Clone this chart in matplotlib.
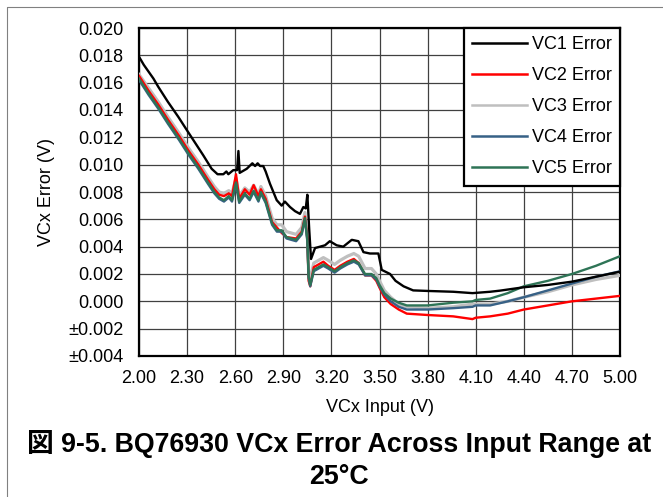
import matplotlib
matplotlib.use("Agg")
import matplotlib.pyplot as plt
from matplotlib.lines import Line2D

plt.rcParams['font.family'] = ['Liberation Sans', 'Noto Sans CJK JP', 'DejaVu Sans']

# VC1 has its own sample points
vc1_x = [2.00, 2.03, 2.06, 2.09, 2.12, 2.18, 2.245, 2.30, 2.35, 2.40, 2.453, 2.49, 2.526,
         2.545, 2.557, 2.588, 2.612, 2.62, 2.628, 2.672, 2.707, 2.724, 2.74, 2.755, 2.775,
         2.79, 2.817, 2.859, 2.89, 2.91, 2.942, 2.973, 3.004, 3.025, 3.04, 3.05, 3.062,
         3.073, 3.098, 3.16, 3.19, 3.233, 3.274, 3.327, 3.368, 3.40, 3.44, 3.493, 3.514,
         3.566, 3.60, 3.65, 3.71, 3.80, 3.96, 4.08, 4.19, 4.25, 4.40, 4.55, 4.70, 4.85, 5.00]
vc1_err = [0.0179, 0.0173, 0.0168, 0.0163, 0.0157, 0.0146, 0.0135, 0.0125, 0.0116, 0.0107,
           0.0097, 0.0093, 0.0093, 0.0095, 0.0093, 0.0096, 0.0096, 0.0110, 0.0094, 0.0097,
           0.0101, 0.0099, 0.0101, 0.0099, 0.0099, 0.0095, 0.0086, 0.0074, 0.0070, 0.0073,
           0.0069, 0.0066, 0.0064, 0.0069, 0.0068, 0.0078, 0.0052, 0.0031, 0.0039, 0.0041,
           0.0044, 0.0041, 0.0040, 0.0045, 0.0044, 0.0036, 0.0035, 0.0035, 0.0023, 0.0020,
           0.0015, 0.0011, 0.0008, 0.00076, 0.0007, 0.0006, 0.0007, 0.00078, 0.00103, 0.0012,
           0.00144, 0.0018, 0.00217]

# VC2..VC5 share the same input points
vc_x = [2.00, 2.06, 2.12, 2.18, 2.25, 2.31, 2.37, 2.43, 2.47, 2.50, 2.53, 2.56, 2.58, 2.605,
        2.625, 2.66, 2.69, 2.715, 2.745, 2.76, 2.79, 2.83, 2.86, 2.89, 2.92, 2.98, 3.015,
        3.035, 3.05, 3.058, 3.068, 3.09, 3.15, 3.18, 3.22, 3.255, 3.30, 3.34, 3.37, 3.41,
        3.45, 3.48, 3.50, 3.53, 3.57, 3.62, 3.67, 3.80, 3.96, 4.08, 4.10, 4.19, 4.30, 4.40,
        4.55, 4.70, 4.85, 5.00]
vc2_err = [0.0165, 0.0154, 0.0144, 0.0133, 0.0121, 0.0110, 0.0100, 0.0089, 0.0082, 0.0078,
           0.0077, 0.0079, 0.0077, 0.0093, 0.0075, 0.0082, 0.0078, 0.0085, 0.0077, 0.0082,
           0.0075, 0.0058, 0.0054, 0.0050, 0.0047, 0.0046, 0.0051, 0.0062, 0.0046, 0.0015,
           0.0011, 0.0025, 0.0029, 0.0026, 0.0023, 0.0026, 0.0029, 0.0031, 0.0028, 0.0019,
           0.0019, 0.0015, 0.0010, 0.0003, -0.0002, -0.0006, -0.0009, -0.0010, -0.0011,
           -0.0013, -0.0012, -0.0011, -0.0009, -0.0006, -0.0003, 0.0000, 0.0002, 0.0004]
vc3_err = [0.0166, 0.0156, 0.0146, 0.0135, 0.0123, 0.0112, 0.0102, 0.0091, 0.0084, 0.0080,
           0.0079, 0.0081, 0.0079, 0.0090, 0.0077, 0.0083, 0.0080, 0.0085, 0.0078, 0.0084,
           0.0077, 0.0061, 0.0056, 0.0056, 0.0051, 0.0049, 0.0054, 0.0065, 0.0049, 0.0022,
           0.0016, 0.0028, 0.0032, 0.0030, 0.0027, 0.0030, 0.0033, 0.0035, 0.0033, 0.0024,
           0.0024, 0.0020, 0.0015, 0.0008, 0.0003, -0.0002, -0.0004, -0.0005, -0.0004,
           -0.0002, -0.0002, -0.0002, 0.0000, 0.0003, 0.0007, 0.0012, 0.0016, 0.0019]
vc4_err = [0.0162, 0.0151, 0.0141, 0.0130, 0.0118, 0.0107, 0.0097, 0.0086, 0.0079, 0.0075,
           0.0073, 0.0076, 0.0073, 0.0086, 0.0072, 0.0078, 0.0074, 0.0080, 0.0073, 0.0079,
           0.0072, 0.0056, 0.0051, 0.0051, 0.0046, 0.0044, 0.0049, 0.0060, 0.0044, 0.0017,
           0.0011, 0.0022, 0.0026, 0.0024, 0.0021, 0.0024, 0.0027, 0.0029, 0.0027, 0.0019,
           0.0019, 0.0016, 0.0011, 0.0005, 0.0000, -0.0004, -0.0006, -0.0006, -0.0005,
           -0.0004, -0.0003, -0.0003, 0.0000, 0.0003, 0.0008, 0.0013, 0.0018, 0.0022]
vc5_err = [0.0163, 0.0152, 0.0142, 0.0131, 0.0119, 0.0108, 0.0098, 0.0087, 0.0080, 0.0076,
           0.0074, 0.0077, 0.0074, 0.0087, 0.0073, 0.0079, 0.0075, 0.0081, 0.0074, 0.0080,
           0.0073, 0.0057, 0.0052, 0.0052, 0.0047, 0.0045, 0.0050, 0.0061, 0.0045, 0.0018,
           0.0012, 0.0023, 0.0027, 0.0025, 0.0022, 0.0025, 0.0028, 0.0030, 0.0028, 0.0020,
           0.0020, 0.0017, 0.0012, 0.0006, 0.0002, -0.0001, -0.0003, -0.0003, -0.0001,
           0.0000, 0.0001, 0.0002, 0.0006, 0.0011, 0.0015, 0.0020, 0.0026, 0.0033]

x_ticks = [2.00, 2.30, 2.60, 2.90, 3.20, 3.50, 3.80, 4.10, 4.40, 4.70, 5.00]
y_ticks = [-0.004, -0.002, 0.000, 0.002, 0.004, 0.006, 0.008, 0.010, 0.012, 0.014,
           0.016, 0.018, 0.020]
y_tick_labels = ['±0.004', '±0.002', '0.000', '0.002', '0.004', '0.006', '0.008',
                 '0.010', '0.012', '0.014', '0.016', '0.018', '0.020']

fig = plt.figure(figsize=(6.63, 4.97), dpi=100)
ax = fig.add_axes([139 / 663, 1 - 356 / 497, 481 / 663, 328 / 497])

lw = 1.7
ax.plot(vc_x, vc3_err, color='#bfbfbf', lw=lw + 0.6, label='VC3 Error', zorder=3)
ax.plot(vc_x, vc2_err, color='#ff0000', lw=lw, label='VC2 Error', zorder=4)
ax.plot(vc_x, vc4_err, color='#376186', lw=lw, label='VC4 Error', zorder=5)
ax.plot(vc_x, vc5_err, color='#2e7456', lw=lw, label='VC5 Error', zorder=6)
ax.plot(vc1_x, vc1_err, color='black', lw=lw, label='VC1 Error', zorder=7)

ax.set_xlim(2.0, 5.0)
ax.set_ylim(-0.004, 0.020)
ax.set_xticks(x_ticks)
ax.set_xticklabels([f'{t:.2f}' for t in x_ticks])
ax.set_yticks(y_ticks)
ax.set_yticklabels(y_tick_labels)
ax.tick_params(length=0, labelsize=13, colors='black')
ax.tick_params(axis='y', pad=11)
ax.tick_params(axis='x', pad=10)
ax.grid(True, color='#404040', lw=0.9)
ax.set_axisbelow(True)
for s in ax.spines.values():
    s.set_linewidth(1.6)
    s.set_color('black')

ax.set_xlabel('VCx Input (V)', fontsize=13, labelpad=9)
ax.set_ylabel('VCx Error (V)', fontsize=13, labelpad=10)

handles, labels = ax.get_legend_handles_labels()
order = [labels.index(f'VC{i} Error') for i in range(1, 6)]
leg = ax.legend([handles[i] for i in order], [labels[i] for i in order],
                loc='upper right', borderaxespad=0, fontsize=13, fancybox=False,
                framealpha=1, edgecolor='black', handlelength=3.0, handletextpad=0.3,
                labelspacing=0.78, borderpad=0.45)
leg.get_frame().set_linewidth(1.6)
for h in leg.get_lines():
    h.set_linewidth(1.8)

fig.text(339 / 663, 1 - 460 / 497, '図 9-5. BQ76930 VCx Error Across Input Range at\n25°C',
         ha='center', va='center', fontsize=19.3, fontweight='bold', linespacing=1.25)

# outer frame of the figure picture
fig.add_artist(Line2D([7 / 663, 7 / 663, 1.0], [0.0, 1 - 7 / 497, 1 - 7 / 497],
                      transform=fig.transFigure, color='#808080', lw=0.8))

fig.savefig('out.png', dpi=100)
